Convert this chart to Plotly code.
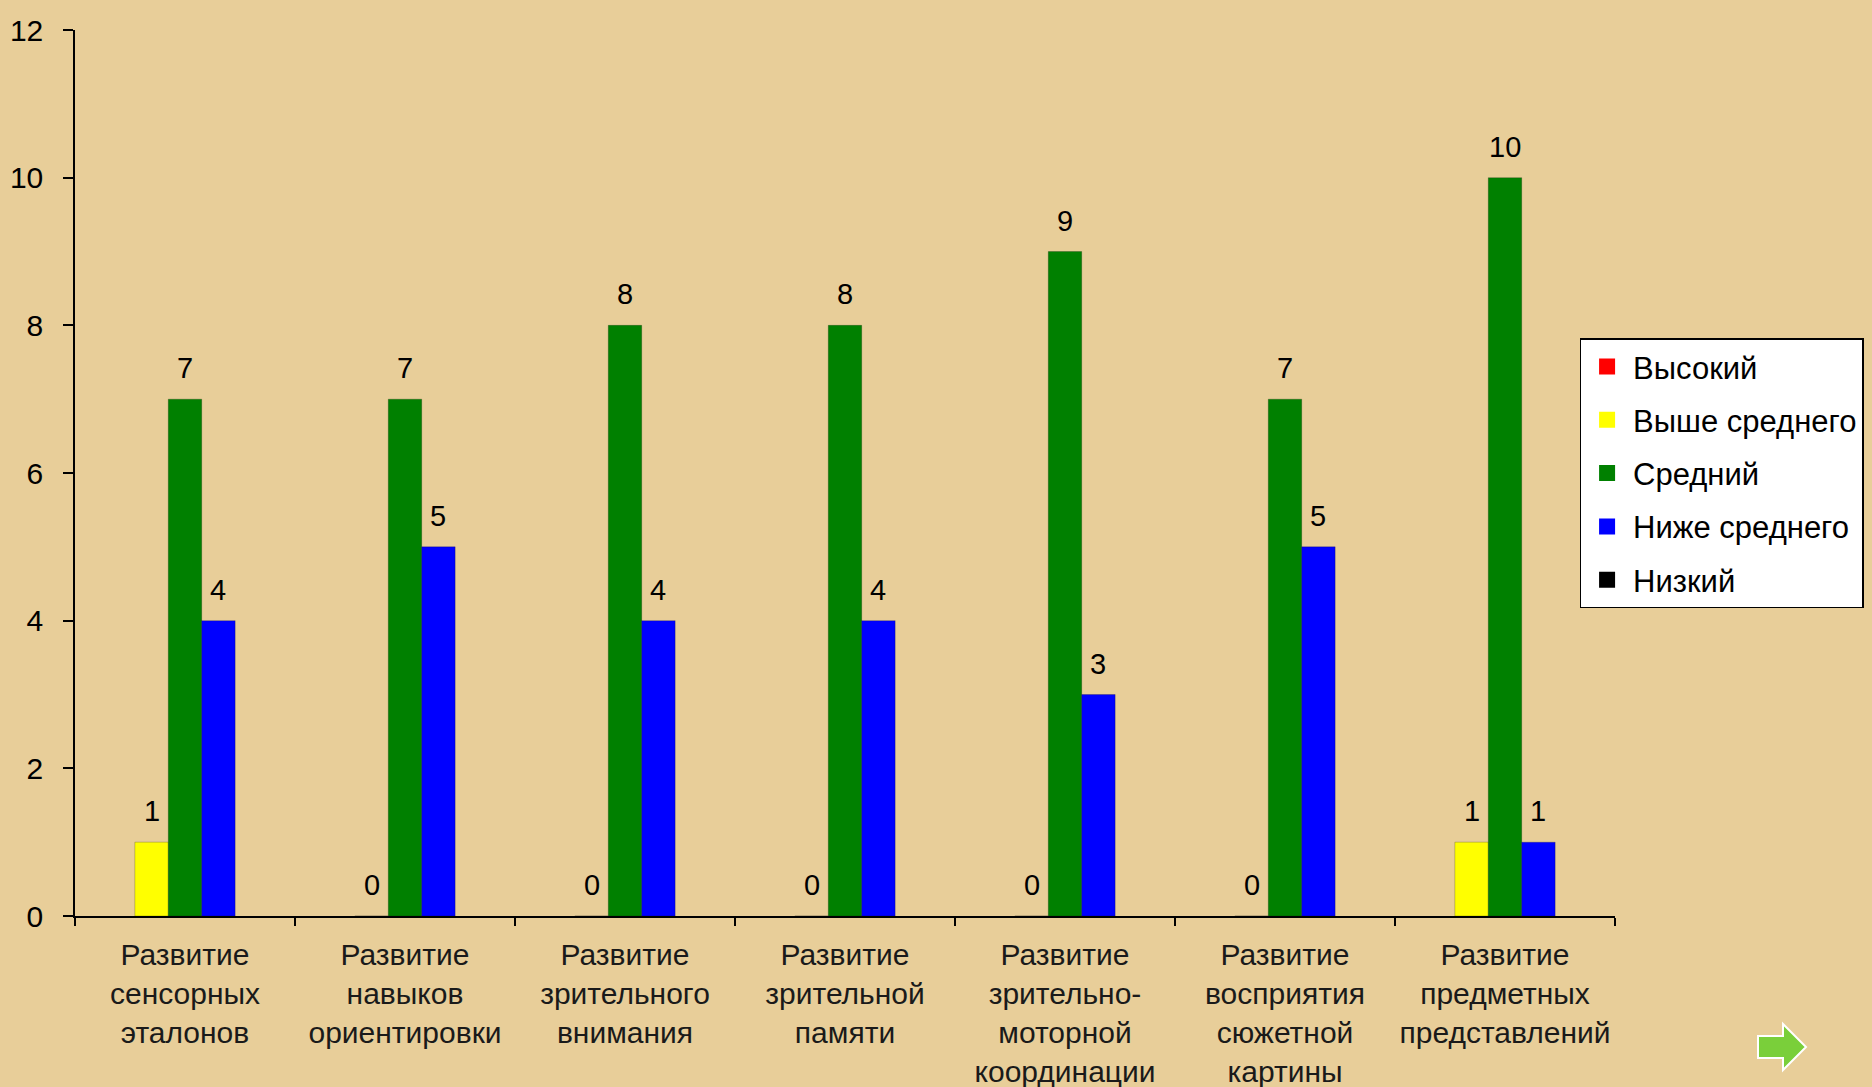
import plotly.graph_objects as go

categories = [
    "Развитие<br>сенсорных<br>эталонов",
    "Развитие<br>навыков<br>ориентировки",
    "Развитие<br>зрительного<br>внимания",
    "Развитие<br>зрительной<br>памяти",
    "Развитие<br>зрительно-<br>моторной<br>координации",
    "Развитие<br>восприятия<br>сюжетной<br>картины",
    "Развитие<br>предметных<br>представлений",
]
series_names = ["Высокий", "Выше среднего", "Средний", "Ниже среднего", "Низкий"]
vysokiy = [None] * 7
vyshe_srednego = [1, 0, 0, 0, 0, 0, 1]
sredniy = [7, 7, 8, 8, 9, 7, 10]
nizhe_srednego = [4, 5, 4, 4, 3, 5, 1]
nizkiy = [None] * 7
colors = ["#FF0000", "#FFFF00", "#008000", "#0000FF", "#000000"]
y_ticks = [0, 2, 4, 6, 8, 10, 12]

W, H = 1872, 1087
ML, MR, MT, MB = 75, 257, 30, 171
BARGAP = 0.24
FONT = "Liberation Sans, Arial, sans-serif"
BG = "#E8CE99"

all_values = [vysokiy, vyshe_srednego, sredniy, nizhe_srednego, nizkiy]

fig = go.Figure()
for name, vals, col in zip(series_names, all_values, colors):
    fig.add_trace(go.Bar(
        x=categories, y=vals, name=name,
        marker=dict(color=col, line=dict(color="rgba(0,0,0,0.35)", width=0.6)),
        legendgroup=name, showlegend=False,
    ))
# legend entries with larger square swatches
for name, col in zip(series_names, colors):
    fig.add_trace(go.Scatter(
        x=[None], y=[None], mode="markers", name=name, legendgroup=name,
        marker=dict(symbol="square", size=16, color=col, line=dict(width=0)),
        showlegend=True,
    ))

# data labels (above bars, matching the reference's gap)
plot_w = W - ML - MR
slot = plot_w / len(categories) * (1 - BARGAP) / len(series_names)
for i, vals in enumerate(all_values):
    for c, v in zip(categories, vals):
        if v is None:
            continue
        fig.add_annotation(
            x=c, y=v, xref="x", yref="y", text=str(v), showarrow=False,
            xshift=(i - 2) * slot, yanchor="bottom", yshift=13,
            font=dict(family=FONT, size=29, color="#000000"),
        )

def px2paper(x, y):
    return (x - ML) / plot_w, (H - MB - y) / (H - MT - MB)

# green navigation arrow in the corner
pts = [(1758, 1036), (1783, 1036), (1783, 1024), (1806, 1047), (1783, 1070), (1783, 1058), (1758, 1058)]
path = ""
for k, (px, py) in enumerate(pts):
    xx, yy = px2paper(px, py)
    path += ("M" if k == 0 else "L") + f"{xx:.5f},{yy:.5f}"
path += "Z"
fig.add_shape(type="path", path=path, xref="paper", yref="paper",
              fillcolor="#7ACF3A", line=dict(color="#FFFFFF", width=2))

fig.update_layout(
    width=W, height=H,
    margin=dict(l=ML, r=MR, t=MT, b=MB, autoexpand=False),
    paper_bgcolor=BG, plot_bgcolor=BG,
    barmode="group", bargap=BARGAP, bargroupgap=0,
    font=dict(family=FONT, color="#000000"),
    legend=dict(
        x=0.977, y=0.652, xanchor="left", yanchor="top",
        bgcolor="#FFFFFF", bordercolor="#000000", borderwidth=1.5,
        font=dict(family=FONT, size=31, color="#000000"),
        tracegroupgap=10, itemclick=False, itemsizing="trace", itemwidth=42,
    ),
    showlegend=True,
)
fig.update_xaxes(
    showline=True, linecolor="#000000", linewidth=1.5,
    ticks="outside", ticklen=8, tickcolor="#000000", tickwidth=1.5,
    tickson="boundaries", tickangle=0,
    tickfont=dict(family=FONT, size=30, color="#1a1a1a"),
    ticklabelstandoff=11,
    showgrid=False, zeroline=False,
)
fig.update_yaxes(
    range=[0, 12], tickvals=y_ticks,
    showline=True, linecolor="#000000", linewidth=1.5,
    ticks="outside", ticklen=10, tickcolor="#000000", tickwidth=1.5,
    tickfont=dict(family=FONT, size=30, color="#000000"),
    ticklabelstandoff=14,
    showgrid=False, zeroline=False,
)

fig.write_html(
    "out.html",
    config={"displayModeBar": False},
    post_script="document.body.style.margin='0px';document.body.style.background='" + BG + "';",
)
